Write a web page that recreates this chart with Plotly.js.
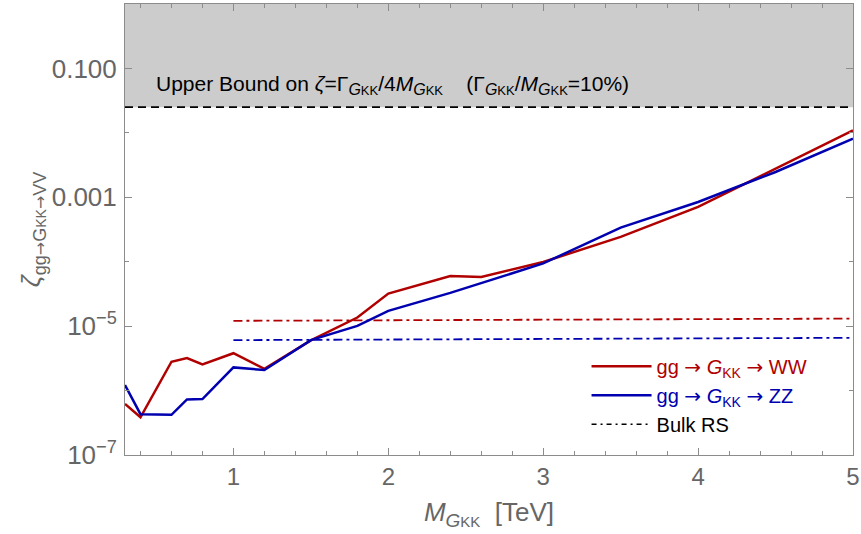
<!DOCTYPE html>
<html>
<head>
<meta charset="utf-8">
<script src="https://cdn.plot.ly/plotly-3.0.1.min.js"></script>
<style>html,body{margin:0;padding:0;background:#fff;}#chart{width:861px;height:534px;}</style>
</head>
<body>
<div id="chart"></div>
<script>
// ---- data ----
const massWW = [0.3, 0.4, 0.6, 0.7, 0.8, 1.0, 1.2, 1.5, 1.8, 2.0, 2.4, 2.6, 3.0, 3.5, 4.0, 4.5, 5.0];
const zetaWW = [6.2e-7, 3.85e-7, 2.8e-6, 3.2e-6, 2.55e-6, 3.8e-6, 2.18e-6, 6.0e-6, 1.36e-5, 3.2e-5, 6.0e-5, 5.8e-5, 9.9e-5, 2.43e-4, 7.1e-4, 2.8e-3, 1.09e-2];
const massZZ = [0.3, 0.4, 0.6, 0.7, 0.8, 1.0, 1.2, 1.5, 1.8, 2.0, 2.4, 2.6, 3.0, 3.5, 4.0, 4.5, 5.0];
const zetaZZ = [1.22e-6, 4.3e-7, 4.2e-7, 7.3e-7, 7.4e-7, 2.29e-6, 2.08e-6, 6.07e-6, 1.01e-5, 1.73e-5, 3.28e-5, 4.7e-5, 9.4e-5, 3.39e-4, 8.45e-4, 2.47e-3, 8.1e-3];
const massBulk = [1, 2, 3, 4, 5];
const bulkWW = [1.21e-5, 1.23e-5, 1.26e-5, 1.28e-5, 1.31e-5];
const bulkZZ = [6.07e-6, 6.2e-6, 6.33e-6, 6.46e-6, 6.59e-6];
const boundX = [0.3, 5.0];
const upperBound = 0.025;   // Γ/4M with Γ/M = 10%
const yTop = 1;
const xTickVals = [1, 2, 3, 4, 5];
const xMinorVals = [0.4, 0.6, 0.8, 1.2, 1.4, 1.6, 1.8, 2.2, 2.4, 2.6, 2.8, 3.2, 3.4, 3.6, 3.8, 4.2, 4.4, 4.6, 4.8];
const yTickVals = [1e-7, 1e-5, 1e-3, 1e-1];
const yTickText = ['10<sup>−7</sup>', '10<sup>−5</sup>', '0.001', '0.100'];
const yMinorVals = [1e-6, 1e-4, 1e-2, 1];

const RED = '#b00000';
const BLUE = '#0000b0';
const GRAY = '#666666';
const FRAME = '#8c8c8c';

const GKK = '<sub><span style="font-size:16px"><i>G</i></span><span style="font-size:13px">KK</span></sub>';
const ARR = '<span style="font-family:DejaVu Sans">→</span>';
const ARRS = '<span style="font-family:DejaVu Sans;font-size:16px">→</span>';

const traces = [
  { // shaded excluded region
    x: [boundX[0], boundX[1], boundX[1], boundX[0]],
    y: [upperBound, upperBound, yTop, yTop],
    mode: 'lines', fill: 'toself', fillcolor: '#cccccc',
    line: {width: 0}, showlegend: false, hoverinfo: 'skip'
  },
  { // upper bound dashed line
    x: boundX, y: [upperBound, upperBound], mode: 'lines',
    line: {color: '#000', width: 1.8, dash: '8px,5px'}, showlegend: false
  },
  {
    x: massBulk, y: bulkWW, mode: 'lines',
    line: {color: RED, width: 1.8, dash: '9px,4px,3px,4px'}, showlegend: false
  },
  {
    x: massBulk, y: bulkZZ, mode: 'lines',
    line: {color: BLUE, width: 1.8, dash: '9px,4px,3px,4px'}, showlegend: false
  },
  {
    x: massWW, y: zetaWW, mode: 'lines',
    line: {color: RED, width: 2.5},
    name: '<span style="color:' + RED + '">gg ' + ARR + ' <i>G</i><sub>KK</sub> ' + ARR + ' WW</span>'
  },
  {
    x: massZZ, y: zetaZZ, mode: 'lines',
    line: {color: BLUE, width: 2.5},
    name: '<span style="color:' + BLUE + '">gg ' + ARR + ' <i>G</i><sub>KK</sub> ' + ARR + ' ZZ</span>'
  },
  { // legend-only entry
    x: [null], y: [null], mode: 'lines',
    line: {color: '#000', width: 1.5, dash: '5px,4px,2px,4px'},
    name: 'Bulk RS'
  }
];

const layout = {
  width: 861, height: 534,
  margin: {l: 125, r: 8, t: 4, b: 79},
  paper_bgcolor: '#fff', plot_bgcolor: '#fff',
  font: {family: 'Liberation Sans, Arial, sans-serif', color: GRAY},
  showlegend: true,
  legend: {
    x: 0.634, y: 0.24, xanchor: 'left', yanchor: 'top',
    bgcolor: 'rgba(0,0,0,0)', borderwidth: 0,
    font: {size: 20, color: '#000'},
    itemwidth: 60, tracegroupgap: 0
  },
  xaxis: {
    range: [0.3, 5], type: 'linear',
    tickmode: 'array', tickvals: xTickVals, ticktext: xTickVals.map(String),
    ticks: 'inside', ticklen: 7, tickwidth: 1, tickcolor: FRAME,
    minor: {tickmode: 'array', tickvals: xMinorVals, ticks: 'inside', ticklen: 4, tickwidth: 1, tickcolor: FRAME},
    showline: true, linecolor: FRAME, linewidth: 1, mirror: 'ticks',
    showgrid: false, zeroline: false,
    tickfont: {size: 24, color: GRAY},
    title: {text: '<i>M</i><sub><span style="font-size:19px"><i>G</i></span><span style="font-size:15px">KK</span></sub>  [TeV]', font: {size: 26, color: GRAY}, standoff: 14}
  },
  yaxis: {
    type: 'log', range: [-7, 0],
    tickmode: 'array', tickvals: yTickVals, ticktext: yTickText,
    ticks: 'inside', ticklen: 7, tickwidth: 1, tickcolor: FRAME,
    minor: {tickmode: 'array', tickvals: yMinorVals, ticks: 'inside', ticklen: 4, tickwidth: 1, tickcolor: FRAME},
    showline: true, linecolor: FRAME, linewidth: 1, mirror: 'ticks',
    showgrid: false, zeroline: false,
    tickfont: {size: 26, color: GRAY},
    ticklabelstandoff: 2,
    title: {text: '<i>ζ</i><sub><span style="font-size:18px">gg' + ARRS + 'G</span><span style="font-size:14px">KK</span><span style="font-size:18px">' + ARRS + 'VV</span></sub>', font: {size: 26, color: GRAY}, standoff: 3}
  },
  annotations: [{
    xref: 'paper', yref: 'paper', x: 0.04, y: 0.82, xanchor: 'left', yanchor: 'middle',
    showarrow: false,
    text: 'Upper Bound on <i>ζ</i>=Γ' + GKK + '/4<i>M</i>' + GKK + '    (Γ' + GKK + '/<i>M</i>' + GKK + '=10%)',
    font: {size: 21, color: '#000'}
  }]
};

Plotly.newPlot('chart', traces, layout, {displayModeBar: false, staticPlot: true});
</script>
</body>
</html>
